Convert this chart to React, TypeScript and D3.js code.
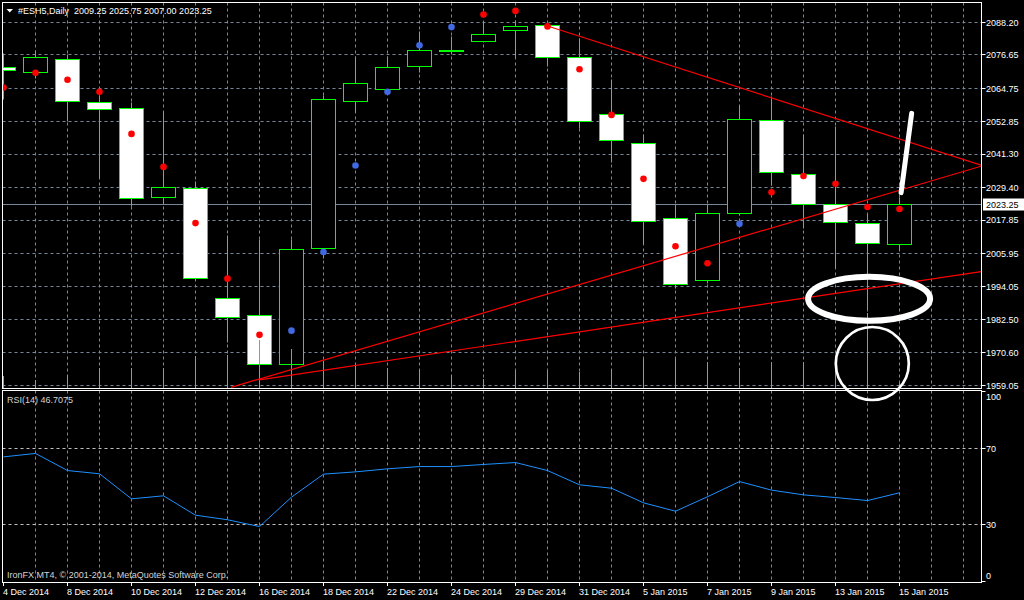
import React from 'react';
import * as d3 from 'd3';

// ---- data ----
const dates = [
  '4 Dec 2014', '5 Dec 2014', '8 Dec 2014', '9 Dec 2014', '10 Dec 2014', '11 Dec 2014', '12 Dec 2014',
  '15 Dec 2014', '16 Dec 2014', '17 Dec 2014', '18 Dec 2014', '19 Dec 2014', '22 Dec 2014', '23 Dec 2014',
  '24 Dec 2014', '26 Dec 2014', '29 Dec 2014', '30 Dec 2014', '31 Dec 2014', '2 Jan 2015', '5 Jan 2015',
  '6 Jan 2015', '7 Jan 2015', '8 Jan 2015', '9 Jan 2015', '12 Jan 2015', '13 Jan 2015', '14 Jan 2015', '15 Jan 2015',
];
const opens = [
  2072.25, 2070.5, 2075.0, 2059.75, 2057.5, 2026.0, 2029.0, 1990.0, 1984.0, 1966.5, 2007.75, 2060.0, 2064.25, 2072.5,
  2077.75, 2081.25, 2085.25, 2087.0, 2075.75, 2055.5, 2045.25, 2018.5, 1996.5, 2020.25, 2053.25, 2034.0, 2023.5, 2016.75, 2009.25,
];
const highs = [
  2077.0, 2078.25, 2076.75, 2062.0, 2059.5, 2056.5, 2031.5, 2012.25, 2010.75, 2010.75, 2062.25, 2076.0, 2076.0, 2084.75,
  2083.0, 2088.5, 2088.75, 2087.5, 2082.5, 2067.75, 2048.25, 2023.25, 2023.25, 2058.75, 2061.75, 2048.25, 2051.0, 2019.75, 2025.75,
];
const lows = [
  2060.75, 2068.25, 2053.0, 2032.75, 2022.5, 2023.5, 1996.25, 1974.25, 1965.75, 1965.5, 2004.25, 2056.0, 2063.75, 2070.5,
  2076.75, 2081.0, 2075.5, 2072.5, 2050.5, 2038.25, 2009.0, 1993.5, 1995.25, 2019.5, 2030.25, 2015.0, 2000.5, 1986.0, 2007.0,
];
const closes = [
  2071.0, 2075.75, 2060.0, 2057.25, 2025.5, 2029.25, 1997.0, 1983.25, 1966.5, 2007.5, 2060.75, 2066.25, 2072.25, 2078.25,
  2078.25, 2084.0, 2086.75, 2075.75, 2053.0, 2046.25, 2017.5, 1995.0, 2020.0, 2053.75, 2034.75, 2023.5, 2017.0, 2009.5, 2023.25,
];
const volumes = [
  120, 80, 130, 200, 200, 200, 320, 330, 480, 390, 270, 250, 200, 180,
  130, 90, 170, 170, 160, 190, 290, 300, 260, 200, 260, 260, 270, 750, 50,
];
const dotValues = [
  2065.0, 2070.25, 2067.75, 2063.5, 2048.5, 2036.75, 2016.75, 1997.0, 1977.0, 1978.5, 2006.5, 2037.25, 2063.5, 2080.0,
  2086.5, 2091.0, 2092.25, 2086.75, 2071.5, 2055.25, 2032.5, 2008.5, 2002.5, 2016.5, 2027.75, 2033.5, 2030.75, 2022.5, 2021.75,
];
const dotSides = [
  'down', 'down', 'down', 'down', 'down', 'down', 'down', 'down', 'down', 'up', 'up', 'up', 'up', 'up',
  'up', 'down', 'down', 'down', 'down', 'down', 'down', 'down', 'down', 'up', 'down', 'down', 'down', 'down', 'down',
];
const rsiValues = [
  65.6, 67.4, 58.4, 56.7, 43.5, 45.1, 34.9, 32.5, 28.9, 44.4, 56.5, 57.7, 59.3, 60.5,
  60.5, 61.6, 62.6, 58.4, 50.9, 49.1, 41.4, 37.0, 44.6, 52.6, 48.1, 45.6, 44.2, 42.6, 46.7,
];
const priceTicks = [2088.20, 2076.65, 2064.75, 2052.85, 2041.30, 2029.40, 2017.85, 2005.95, 1994.05, 1982.50, 1970.60, 1959.05];
const rsiTicks = [100, 70, 30, 0];
const rsiLevels = [70, 30];
const lastPrice = 2023.25;
const headerText = '#ESH5,Daily  2009.25 2025.75 2007.00 2023.25';
const rsiLabel = 'RSI(14) 46.7075';
const copyright = 'IronFX MT4, \u00A9 2001-2014, MetaQuotes Software Corp.';
// trend lines: [index, price] pairs
const trendLines = [
  [[17, 2086.9], [30.55, 2037.35]],
  [[7.11, 1958.33], [30.55, 2037.0]],
  [[8, 1961.0], [30.55, 1999.5]],
];
// hand-drawn annotations in [index, price]
const annEllipse = { i: 27.05, p: 1989.8, rx: 61, ry: 22 };
const annCircle = { i: 27.15, p: 1966.8, r: 36.5 };
const annStroke = [[28.05, 2027.6], [28.38, 2055.8]];

const FONT = '"Liberation Sans", Arial, sans-serif';
const GRID = '#778899';
const GREEN = '#00ff00';

export default function App() {
  const L = 2.5, R = 981.5, MT = 2.5, MB = 388.5, RT = 390.5, RB = 582.5;
  const x = d3.scaleLinear().domain([0, 30]).range([3.5, 963.5]);
  const y = d3.scaleLinear().domain([1959.05, 2088.2]).range([385.3, 22.3]);
  const yR = d3.scaleLinear().domain([0, 100]).range([581.5, 391.5]);
  const yV = d3.scaleLinear().domain([0, 1000]).range([388, 288]);
  const crisp = (v: number) => Math.round(v - 0.5) + 0.5;

  const gridIdx = d3.range(1, 31);
  const labelIdx = d3.range(0, dates.length, 2);

  const rsiLine = d3.line<number>().x((_, i) => x(i)).y((d) => yR(d))(rsiValues) || '';
  const tl = d3.line<number[]>().x((d) => x(d[0])).y((d) => y(d[1]));

  const lastY = crisp(y(lastPrice));

  return (
    <svg width={1024} height={600} style={{ position: 'absolute', left: 0, top: 0, display: 'block', background: '#000' }}
      fontFamily={FONT} fontSize={9}>
      <defs>
        <clipPath id="mainClip"><rect x={L + 0.5} y={MT + 0.5} width={R - L - 1} height={MB - MT - 1} /></clipPath>
        <clipPath id="rsiClip"><rect x={L + 0.5} y={RT + 0.5} width={R - L - 1} height={RB - RT - 1} /></clipPath>
      </defs>
      <rect x={0} y={0} width={1024} height={600} fill="#000" />

      {/* main panel grid */}
      <g clipPath="url(#mainClip)">
        {gridIdx.map((i) => (
          <line key={'vg' + i} x1={x(i)} x2={x(i)} y1={MT} y2={MB} stroke={GRID} strokeDasharray="3 3" />
        ))}
        {priceTicks.map((p) => (
          <line key={'hg' + p} x1={L} x2={R} y1={crisp(y(p))} y2={crisp(y(p))} stroke={GRID} strokeDasharray="3 3" />
        ))}
        <line x1={L} x2={R} y1={lastY} y2={lastY} stroke={GRID} />

        {/* candles */}
        {dates.map((d, i) => {
          const o = opens[i], c = closes[i];
          const top = crisp(y(Math.max(o, c)));
          const bot = Math.max(crisp(y(Math.min(o, c))), top + 1);
          const bull = c >= o;
          return (
            <g key={'c' + i}>
              <line x1={x(i)} x2={x(i)} y1={crisp(y(highs[i]))} y2={crisp(y(lows[i]))} stroke={GREEN} />
              <rect x={x(i) - 12} y={top} width={24} height={bot - top} fill={bull ? '#000' : '#fff'} stroke={GREEN} />
            </g>
          );
        })}
        {/* volumes */}
        {volumes.map((v, i) => (
          <line key={'v' + i} x1={x(i)} x2={x(i)} y1={MB} y2={yV(v)} stroke={GREEN} />
        ))}
        {/* trend lines */}
        {trendLines.map((t, k) => (
          <path key={'t' + k} d={tl(t as number[][]) || ''} stroke="#ff0000" strokeWidth={1.2} fill="none" />
        ))}
        {/* dots */}
        {dotValues.map((v, i) => (
          <circle key={'d' + i} cx={x(i)} cy={y(v)} r={3.3} fill={dotSides[i] === 'up' ? '#4169e1' : '#ff0000'} />
        ))}
      </g>

      {/* rsi panel grid */}
      <g clipPath="url(#rsiClip)">
        {gridIdx.map((i) => (
          <line key={'rvg' + i} x1={x(i)} x2={x(i)} y1={RT} y2={RB} stroke={GRID} strokeDasharray="3 3" />
        ))}
        {rsiLevels.map((v) => (
          <line key={'rl' + v} x1={L} x2={R} y1={yR(v)} y2={yR(v)} stroke="#c0c0c0" strokeDasharray="3 3" />
        ))}
        <path d={rsiLine} stroke="#1e90ff" fill="none" strokeWidth={1} />
      </g>

      {/* frames */}
      <rect x={L} y={MT} width={R - L} height={MB - MT} fill="none" stroke="#fff" />
      <rect x={L} y={RT} width={R - L} height={RB - RT} fill="none" stroke="#fff" />

      {/* price axis */}
      {priceTicks.map((p) => (
        <g key={'pt' + p}>
          <line x1={R + 0.5} x2={R + 4} y1={crisp(y(p))} y2={crisp(y(p))} stroke="#fff" />
          <text x={986} y={y(p) + 3.3} fill="#fff">{p.toFixed(2)}</text>
        </g>
      ))}
      <rect x={983} y={lastY - 6} width={41} height={12} fill="#fff" />
      <text x={986} y={lastY + 3.3} fill="#000">{lastPrice.toFixed(2)}</text>

      {/* rsi axis */}
      {rsiTicks.map((v) => {
        const cy = Math.min(Math.max(yR(v), 397), 576);
        return (
          <g key={'rt' + v}>
            <line x1={R + 0.5} x2={R + 4} y1={yR(v)} y2={yR(v)} stroke="#fff" />
            <text x={986} y={cy + 3.3} fill="#fff">{v}</text>
          </g>
        );
      })}

      {/* time axis */}
      {labelIdx.map((i) => (
        <g key={'xt' + i}>
          <line x1={x(i)} x2={x(i)} y1={RB} y2={RB + 3.5} stroke="#fff" />
          <text x={x(i) - 0.5} y={595} fill="#fff">{dates[i]}</text>
        </g>
      ))}

      {/* header */}
      <polygon points="6.5,9 13,9 9.75,12.5" fill="#fff" />
      <text x={18} y={13.5} fill="#fff" style={{ whiteSpace: 'pre' }}>{headerText}</text>
      <text x={7} y={403} fill="#d4d4d4">{rsiLabel}</text>
      <text x={7} y={578} fill="#d4d4d4">{copyright}</text>

      {/* annotations */}
      <ellipse cx={x(annEllipse.i)} cy={y(annEllipse.p)} rx={annEllipse.rx} ry={annEllipse.ry} fill="none" stroke="#fff" strokeWidth={6} />
      <circle cx={x(annCircle.i)} cy={y(annCircle.p)} r={annCircle.r} fill="none" stroke="#fff" strokeWidth={2.7} />
      <line x1={x(annStroke[0][0])} y1={y(annStroke[0][1])} x2={x(annStroke[1][0])} y2={y(annStroke[1][1])}
        stroke="#fff" strokeWidth={5} strokeLinecap="round" />
    </svg>
  );
}
